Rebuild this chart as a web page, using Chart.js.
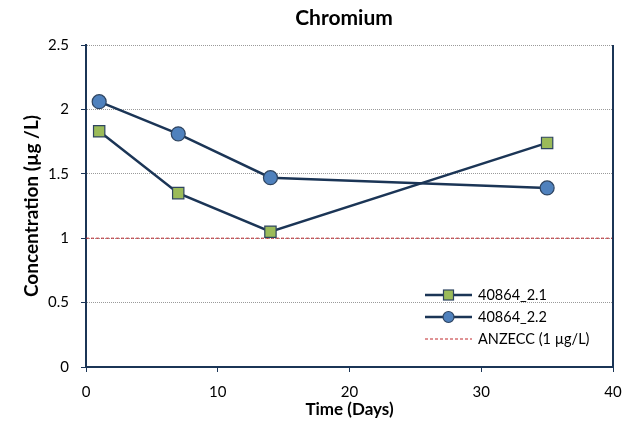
<!DOCTYPE html>
<html>
<head>
<meta charset="utf-8">
<script src="https://cdn.jsdelivr.net/npm/chart.js@4"></script>
<style>
  html, body { margin: 0; padding: 0; background: #ffffff; }
  #wrap { width: 644px; height: 448px; }
</style>
</head>
<body>
<div id="wrap"><canvas id="c" width="644" height="448"></canvas></div>
<script>
const chartTitle = 'Chromium';
const xAxisTitle = 'Time (Days)';
const yAxisTitle = 'Concentration (µg /L)';
const days = [1, 7, 14, 35];
const series21Label = '40864_2.1';
const series21 = [1.83, 1.35, 1.05, 1.74];
const series22Label = '40864_2.2';
const series22 = [2.06, 1.81, 1.47, 1.39];
const anzeccLabel = 'ANZECC (1 µg/L)';
const anzeccX = [0, 40];
const anzeccY = [1, 1];
const xTicks = [0, 10, 20, 30, 40];
const yTicks = [0, 0.5, 1, 1.5, 2, 2.5];

const NAVY = '#1B3556';
const FONT = 'Lato, "Open Sans", "DejaVu Sans", sans-serif';

const toPts = (xs, ys) => xs.map((x, i) => ({x: x, y: ys[i]}));

const legendPlugin = {
  id: 'customLegend',
  afterDatasetsDraw(chart) {
    const ctx = chart.ctx;
    const x0 = 425, x1 = 472, tx = 478;
    const rows = [295, 317, 339];
    const ds = chart.data.datasets;
    ctx.save();
    ctx.font = '14.5px ' + FONT;
    ctx.textBaseline = 'middle';
    ctx.textAlign = 'left';
    ds.forEach((d, i) => {
      const y = rows[i];
      ctx.beginPath();
      ctx.strokeStyle = d.borderColor;
      ctx.lineWidth = d.borderWidth;
      ctx.setLineDash(d.borderDash || []);
      ctx.moveTo(x0, y); ctx.lineTo(x1, y);
      ctx.stroke();
      ctx.setLineDash([]);
      const cx = (x0 + x1) / 2;
      if (d.pointStyle === 'rect') {
        ctx.fillStyle = d.pointBackgroundColor;
        ctx.strokeStyle = d.pointBorderColor;
        ctx.lineWidth = 1.2;
        ctx.fillRect(cx - 5, y - 5, 10, 10);
        ctx.strokeRect(cx - 5, y - 5, 10, 10);
      } else if (d.pointStyle === 'circle' && d.pointRadius > 0) {
        ctx.beginPath();
        ctx.fillStyle = d.pointBackgroundColor;
        ctx.strokeStyle = d.pointBorderColor;
        ctx.lineWidth = 1.2;
        ctx.arc(cx, y, 5.5, 0, Math.PI * 2);
        ctx.fill(); ctx.stroke();
      }
      ctx.fillStyle = '#000000';
      ctx.fillText(d.label, tx, y);
    });
    ctx.restore();
  }
};

const framePlugin = {
  id: 'frame',
  afterLayout(chart) {
    if (chart.titleBlock) {
      chart.titleBlock.left = 75;
      chart.titleBlock.right = 613;
    }
  },
  afterDraw(chart) {
    const a = chart.chartArea;
    const ctx = chart.ctx;
    ctx.save();
    ctx.strokeStyle = NAVY;
    ctx.lineWidth = 2;
    ctx.beginPath();
    ctx.moveTo(a.right, a.top);
    ctx.lineTo(a.right, a.bottom);
    ctx.stroke();
    ctx.restore();
  }
};

new Chart(document.getElementById('c'), {
  type: 'scatter',
  data: {
    datasets: [
      {
        label: series21Label,
        data: toPts(days, series21),
        showLine: true,
        borderColor: NAVY,
        borderWidth: 2.5,
        pointStyle: 'rect',
        pointRadius: 8,
        pointHoverRadius: 8,
        pointBackgroundColor: '#9BBB59',
        pointBorderColor: '#2E4460',
        pointBorderWidth: 1.2,
        order: 2
      },
      {
        label: series22Label,
        data: toPts(days, series22),
        showLine: true,
        borderColor: NAVY,
        borderWidth: 2.5,
        pointStyle: 'circle',
        pointRadius: 7,
        pointHoverRadius: 7,
        pointBackgroundColor: '#4F81BD',
        pointBorderColor: '#2E4460',
        pointBorderWidth: 1.2,
        order: 1
      },
      {
        label: anzeccLabel,
        data: toPts(anzeccX, anzeccY),
        showLine: true,
        borderColor: '#C0282D',
        borderWidth: 1,
        borderDash: [3, 2],
        pointStyle: 'circle',
        pointRadius: 0,
        pointHoverRadius: 0,
        order: 3
      }
    ]
  },
  options: {
    responsive: false,
    animation: false,
    layout: { padding: { left: 19, right: 31, top: 0, bottom: 0 } },
    plugins: {
      legend: { display: false },
      tooltip: { enabled: false },
      title: {
        display: true,
        text: chartTitle,
        color: '#000000',
        font: { family: FONT, size: 21, weight: 'bold', lineHeight: 1.2 },
        padding: { top: 5.5, bottom: 14.3 }
      }
    },
    scales: {
      x: {
        type: 'linear',
        min: 0, max: 40,
        afterBuildTicks(scale) { scale.ticks = xTicks.map(v => ({value: v})); },
        afterFit(scale) { scale.height = 81; },
        ticks: {
          color: '#000000',
          font: { family: FONT, size: 15 },
          padding: 11,
          maxRotation: 0
        },
        grid: {
          drawOnChartArea: false,
          drawTicks: true,
          tickLength: 5,
          tickColor: NAVY,
          tickWidth: 1
        },
        border: { color: NAVY, width: 2 },
        title: {
          display: true,
          text: xAxisTitle,
          color: '#000000',
          font: { family: FONT, size: 17, weight: 'bold', lineHeight: 1.2 },
          padding: { top: 0, bottom: 28 }
        }
      },
      y: {
        type: 'linear',
        min: 0, max: 2.5,
        afterBuildTicks(scale) { scale.ticks = yTicks.map(v => ({value: v})); },
        afterFit(scale) { scale.width = 67; },
        ticks: {
          color: '#000000',
          font: { family: FONT, size: 15 },
          padding: 12,
          callback: v => String(v)
        },
        grid: {
          drawOnChartArea: true,
          color: '#9A9A9A',
          lineWidth: 1,
          drawTicks: true,
          tickLength: 5,
          tickColor: NAVY,
          tickWidth: 1,
          tickBorderDash: []
        },
        border: { color: NAVY, width: 2, dash: [1, 1] },
        title: {
          display: true,
          text: yAxisTitle,
          color: '#000000',
          font: { family: FONT, size: 19, weight: 'bold', lineHeight: 1.2 },
          padding: { top: 1.5, bottom: 0 }
        }
      }
    }
  },
  plugins: [legendPlugin, framePlugin]
});
</script>
</body>
</html>
